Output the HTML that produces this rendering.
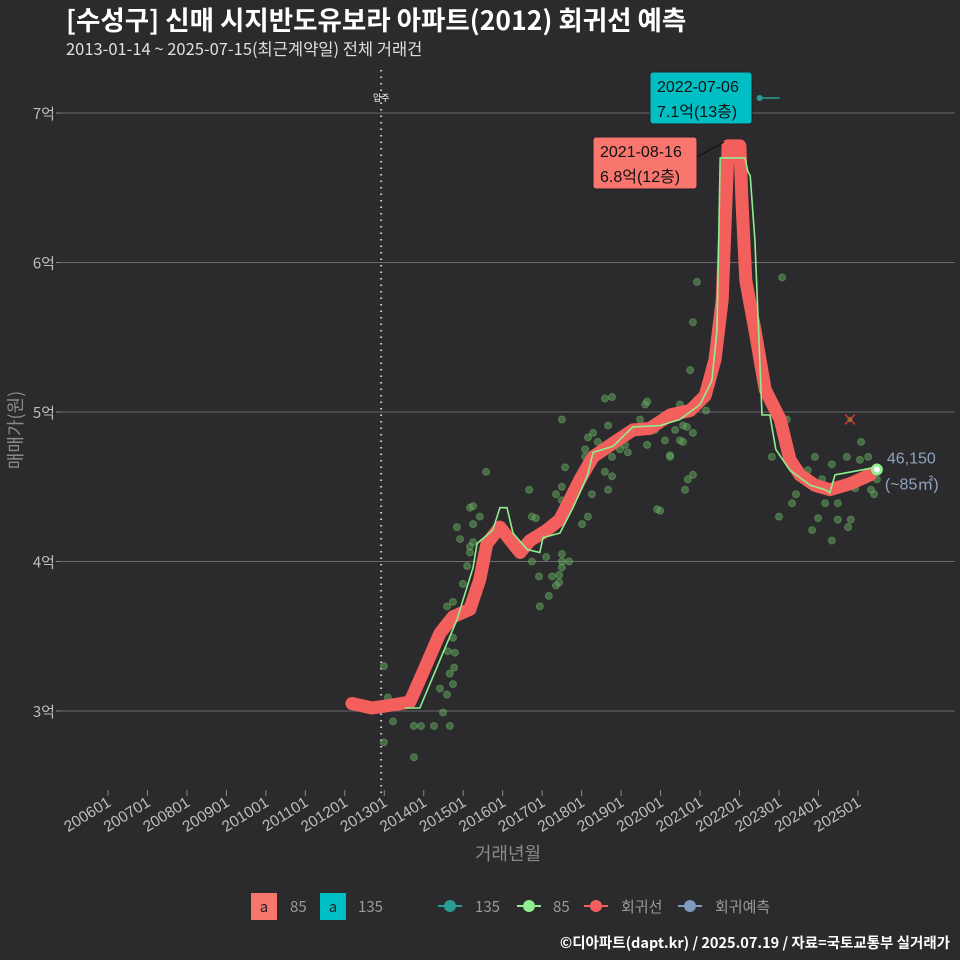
<!DOCTYPE html>
<html><head><meta charset="utf-8">
<style>
html,body{margin:0;padding:0;background:#2b2b2d;}
svg{display:block;font-family:"Liberation Sans","Noto Sans CJK KR",sans-serif;}
</style></head>
<body>
<svg id="chart" width="960" height="960" viewBox="0 0 960 960">
<rect x="0" y="0" width="960" height="960" fill="#2b2b2d"/>
<text x="66" y="30" font-size="26.5" font-weight="bold" fill="#ffffff" font-family="'Noto Sans CJK KR',sans-serif">[수성구] 신매 시지반도유보라 아파트(2012) 회귀선 예측</text>
<text x="66" y="55" font-size="16.5" fill="#e0e0e0" font-family="'Noto Sans CJK KR',sans-serif">2013-01-14 ~ 2025-07-15(최근계약일) 전체 거래건</text>
<g id="grid"></g>
<g id="xaxis"></g>
<g id="yaxis"></g>
<g id="marks"></g>
<text x="508" y="860" font-size="18" fill="#8a8a8a" text-anchor="middle" font-family="'Noto Sans CJK KR',sans-serif">거래년월</text>
<text transform="translate(22,430) rotate(-90)" font-size="18" fill="#8a8a8a" text-anchor="middle" font-family="'Noto Sans CJK KR',sans-serif">매매가(원)</text>
<g font-family="'Noto Sans CJK KR',sans-serif" font-size="15">
 <g><rect x="251" y="893" width="26" height="27" fill="#f8766d"/><text x="264" y="912" text-anchor="middle" fill="#222" font-size="15">a</text><text x="290" y="912" fill="#9a9a9a">85</text></g>
 <g><rect x="320" y="893" width="26" height="27" fill="#00bfc4"/><text x="333" y="912" text-anchor="middle" fill="#222" font-size="15">a</text><text x="358" y="912" fill="#9a9a9a">135</text></g>
 <g><line x1="438" y1="906" x2="462" y2="906" stroke="#2a9d96" stroke-width="2"/><circle cx="450" cy="906" r="6" fill="#2a9d96"/><text x="475" y="912" fill="#9a9a9a">135</text></g>
 <g><line x1="517" y1="906" x2="541" y2="906" stroke="#90ee90" stroke-width="2"/><circle cx="529" cy="906" r="6" fill="#90ee90"/><text x="553" y="912" fill="#9a9a9a">85</text></g>
 <g><line x1="584" y1="906" x2="608" y2="906" stroke="#f25f5c" stroke-width="2"/><circle cx="596" cy="906" r="6" fill="#f25f5c"/><text x="621" y="912" fill="#9a9a9a">회귀선</text></g>
 <g><line x1="678" y1="906" x2="702" y2="906" stroke="#7f9cc0" stroke-width="2"/><circle cx="690" cy="906" r="6" fill="#7f9cc0"/><text x="715" y="912" fill="#9a9a9a">회귀예측</text></g>
</g>
<text x="950" y="948" font-size="14.5" font-weight="bold" fill="#ffffff" text-anchor="end" font-family="'Noto Sans CJK KR',sans-serif">©디아파트(dapt.kr) / 2025.07.19 / 자료=국토교통부 실거래가</text>
</svg>
<script>
const yTicks=[3,4,5,6,7];
const yTickLabels=["3억","4억","5억","6억","7억"];
const xTicks=[2006,2007,2008,2009,2010,2011,2012,2013,2014,2015,2016,2017,2018,2019,2020,2021,2022,2023,2024,2025];
const xTickLabels=["200601","200701","200801","200901","201001","201101","201201","201301","201401","201501","201601","201701","201801","201901","202001","202101","202201","202301","202401","202501"];
const moveInYear=2012.92;
const regDates=[2012.18,2012.69,2013.20,2013.65,2013.90,2014.41,2014.74,2015.17,2015.42,2015.60,2015.93,2016.44,2016.69,2017.12,2017.45,2017.96,2018.29,2018.90,2019.30,2019.73,2020.24,2020.75,2021.13,2021.38,2021.56,2021.71,2022.01,2022.06,2022.16,2022.39,2022.65,2023.03,2023.28,2023.53,2023.91,2024.29,2024.80,2025.31];
const regValues=[3.05,3.02,3.04,3.06,3.21,3.52,3.63,3.68,3.88,4.12,4.23,4.06,4.14,4.21,4.28,4.55,4.70,4.81,4.88,4.89,4.98,5.01,5.11,5.35,5.75,6.78,6.78,6.42,5.88,5.55,5.15,4.95,4.68,4.58,4.51,4.48,4.52,4.58];
const maDates=[2013.52,2013.90,2014.41,2014.84,2015.25,2015.35,2015.75,2015.93,2016.11,2016.26,2016.62,2016.94,2017.02,2017.45,2017.78,2018.14,2018.29,2018.79,2019.30,2019.99,2020.49,2021.00,2021.30,2021.43,2021.51,2022.14,2022.21,2022.27,2022.39,2022.57,2022.77,2022.92,2023.28,2023.79,2024.17,2024.29,2024.42,2025.05,2025.43];
const maValues=[3.02,3.02,3.34,3.61,3.96,4.12,4.21,4.36,4.36,4.19,4.08,4.06,4.16,4.19,4.36,4.57,4.73,4.77,4.90,4.91,4.95,5.05,5.21,5.55,6.70,6.70,6.61,6.58,6.15,4.98,4.98,4.75,4.61,4.51,4.48,4.46,4.58,4.61,4.63];
const tradeDates=[2012.99,2012.99,2013.75,2013.09,2013.22,2013.75,2013.93,2014.26,2014.66,2014.49,2014.41,2014.59,2014.74,2014.66,2014.77,2014.79,2014.61,2014.74,2014.59,2014.74,2014.99,2015.10,2015.17,2015.17,2015.25,2014.92,2014.84,2015.25,2015.42,2015.17,2015.25,2015.58,2016.67,2016.74,2016.84,2016.74,2016.92,2017.10,2016.94,2017.17,2017.25,2017.35,2017.43,2017.43,2017.50,2017.50,2017.68,2017.50,2018.01,2018.16,2018.26,2018.67,2018.59,2018.77,2017.58,2017.35,2017.50,2017.50,2018.09,2018.09,2018.16,2018.29,2018.41,2018.67,2018.77,2018.59,2017.50,2019.17,2018.77,2018.97,2019.10,2019.48,2019.61,2019.86,2019.99,2020.11,2020.24,2020.37,2020.49,2020.57,2020.62,2020.69,2020.75,2020.82,2020.92,2021.00,2021.15,2021.25,2019.66,2020.49,2020.67,2020.82,2020.57,2020.24,2020.82,2019.91,2019.66,2022.82,2023.91,2024.34,2024.72,2025.08,2025.05,2025.26,2023.73,2024.09,2023.43,2023.33,2024.17,2024.49,2024.93,2025.33,2025.41,2025.48,2023.00,2023.99,2024.49,2024.82,2023.84,2024.75,2024.34,2023.20,2023.08];
const tradeValues=[3.30,2.79,2.69,3.09,2.93,2.90,2.90,2.90,2.90,2.99,3.15,3.11,3.18,3.25,3.29,3.39,3.40,3.49,3.70,3.73,3.85,3.97,4.06,4.10,4.13,4.15,4.23,4.25,4.30,4.36,4.37,4.60,4.48,4.30,4.29,4.00,3.90,4.03,3.70,3.77,3.90,3.84,3.86,3.91,4.00,4.05,4.00,3.96,4.25,4.30,4.45,4.48,4.60,4.57,4.63,4.45,4.50,4.41,4.70,4.75,4.83,4.86,4.80,4.91,5.10,5.09,4.95,4.73,4.70,4.75,4.78,4.95,5.05,4.88,4.34,4.81,4.71,4.88,4.81,4.91,4.48,4.55,5.28,5.60,5.87,5.08,5.01,5.21,5.07,5.05,4.90,4.86,4.80,4.70,4.58,4.35,4.78,4.70,4.70,4.65,4.70,4.80,4.68,4.70,4.61,4.55,4.45,4.39,4.39,4.39,4.49,4.48,4.45,4.55,4.30,4.29,4.28,4.28,4.21,4.23,4.14,4.95,5.90];
const big135Date=[2022.51];
const big135Value=[7.1];
const cancelDate=[2024.80];
const cancelValue=[4.95];
const forecastDate=[2025.48];
const forecastValue=[4.615];

const NS="http://www.w3.org/2000/svg";
const X0=108, XPY=39.47, Y3=711, YPU=149.5, PL=60, PR=955;
function xs(t){return X0+(t-2006)*XPY;}
function ys(v){return Y3-(v-3)*YPU;}
function mk(tag,attrs,parent){const e=document.createElementNS(NS,tag);for(const k in attrs)e.setAttribute(k,attrs[k]);parent.appendChild(e);return e;}
const grid=document.getElementById('grid'),xa=document.getElementById('xaxis'),ya=document.getElementById('yaxis'),marks=document.getElementById('marks');

yTicks.forEach((v,i)=>{
  const l=mk('line',{x1:PL,x2:PR,y1:ys(v),y2:ys(v),stroke:'#6a6a6a','stroke-width':1},grid);
  
  
  const tk=mk('line',{x1:PL-4,x2:PL,y1:ys(v),y2:ys(v),stroke:'#8a8a8a'},ya);
  
  
  const t=mk('text',{x:PL-5,y:ys(v)+6,'font-size':15,fill:'#bdbdbd','text-anchor':'end','font-family':"'Noto Sans CJK KR',sans-serif"},ya);
  t.textContent=yTickLabels[i];
  
  
});
xTicks.forEach((v,i)=>{
  const x=xs(v);
  const tk=mk('line',{x1:x,x2:x,y1:790,y2:796,stroke:'#8a8a8a'},xa);
  
  
  const t=mk('text',{x:x+4,y:805,'font-size':15.5,fill:'#bdbdbd','text-anchor':'end',transform:`rotate(-32 ${x+4} 805)`},xa);
  t.textContent=xTickLabels[i];
  
  
});
const mv=mk('line',{x1:xs(moveInYear),x2:xs(moveInYear),y1:70,y2:795,stroke:'#cfcfcf','stroke-width':2,'stroke-dasharray':'1.5 5'},marks);


const mvl=mk('text',{x:xs(moveInYear),y:101,'font-size':9,fill:'#fff','text-anchor':'middle','font-family':"'Noto Sans CJK KR',sans-serif"},marks);
mvl.textContent='입주';


tradeDates.forEach((d,i)=>{
  const c=mk('circle',{cx:xs(d),cy:ys(tradeValues[i]),r:3.5,fill:'#5fa35a','fill-opacity':0.55,stroke:'#77c070','stroke-opacity':0.4},marks);
  
  
});
const rp=mk('path',{d:regDates.map((d,i)=>(i?'L':'M')+xs(d).toFixed(1)+','+ys(regValues[i]).toFixed(1)).join(''),fill:'none',stroke:'#f25f5c','stroke-width':13,'stroke-linejoin':'round','stroke-linecap':'round'},marks);


const mp=mk('path',{d:maDates.map((d,i)=>(i?'L':'M')+xs(d).toFixed(1)+','+ys(maValues[i]).toFixed(1)).join(''),fill:'none',stroke:'#90ee90','stroke-width':1.6},marks);


const bl=mk('line',{x1:xs(big135Date[0]),x2:xs(big135Date[0])+20,y1:ys(big135Value[0]),y2:ys(big135Value[0]),stroke:'#2a9d96','stroke-width':1.5},marks);


const bc=mk('circle',{cx:xs(big135Date[0]),cy:ys(big135Value[0]),r:3,fill:'#2a9d96'},marks);


const cx=xs(cancelDate[0]),cy=ys(cancelValue[0]);
const cm=mk('path',{d:`M${cx-5},${cy-5}L${cx+5},${cy+5}M${cx+5},${cy-5}L${cx-5},${cy+5}`,stroke:'#d0302a','stroke-width':1.6},marks);


mk('circle',{cx:cx,cy:cy,r:2.5,fill:'#9a6a3a'},marks);
const fx=xs(forecastDate[0]),fy=ys(forecastValue[0]);
const fc=mk('circle',{cx:fx,cy:fy,r:6,fill:'#90ee90'},marks);


mk('circle',{cx:fx,cy:fy,r:3,fill:'#ffffff'},marks);
const f1=mk('text',{x:fx+10,y:fy-6,'font-size':16,fill:'#8fa3c0'},marks);
f1.textContent='46,150';


const f2=mk('text',{x:fx+8,y:fy+20,'font-size':16,fill:'#8fa3c0'},marks);
f2.textContent='(~85㎡)';


const ll=mk('line',{x1:697,y1:157,x2:724,y2:142,stroke:'#111','stroke-width':1.2},marks);


function box(x,y,w,h,fill,l1,l2,name){
  const g=mk('g',{},marks);
  
  
  mk('rect',{x:x,y:y,width:w,height:h,rx:3,fill:fill,stroke:'#222','stroke-width':1},g);
  const a=mk('text',{x:x+7,y:y+20,'font-size':16,fill:'#111','font-family':"'Liberation Sans','Noto Sans CJK KR',sans-serif"},g);a.textContent=l1;
  const b=mk('text',{x:x+7,y:y+45,'font-size':16,fill:'#111','font-family':"'Liberation Sans','Noto Sans CJK KR',sans-serif"},g);b.textContent=l2;
}
box(650,72,102,52,'#00bfc4','2022-07-06','7.1억(13층)','max-135-annotation');
box(593,137,104,52,'#f8766d','2021-08-16','6.8억(12층)','max-85-annotation');
</script>
</body></html>
